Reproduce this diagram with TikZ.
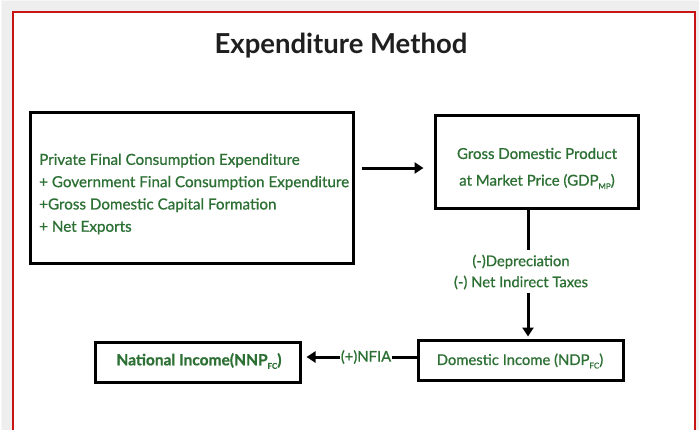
\documentclass[tikz,border=0pt]{standalone}
\usepackage{fontspec}
\setmainfont{Lato}[FakeBold=0.8]
\newfontfamily\titlefont{Lato}
\usetikzlibrary{arrows.meta,calc}
\definecolor{txtgreen}{RGB}{44,112,52}
\definecolor{framered}{RGB}{200,20,20}
% small, dropped subscript as in GDP_MP
\newcommand\lowsub[1]{\raisebox{-3.5pt}{\fontsize{8}{8}\selectfont #1}}
\tikzset{
  box/.style={draw=black, line width=3pt, inner sep=0pt},
  boxtext/.style={text=txtgreen, inner sep=0pt, font=\fontsize{14.8}{22.3}\selectfont},
  lbl/.style={text=txtgreen, inner sep=1pt, font=\fontsize{14.8}{21}\selectfont, align=center},
  conn/.style={line width=3pt, draw=black},
  arr/.style={conn, -{Triangle[length=9pt,width=11pt]}},
}
\begin{document}
\begin{tikzpicture}[x=1pt,y=-1pt]
\useasboundingbox (0,0) rectangle (699,429);
% soft shadow behind the frame
\foreach \i in {1,...,11}{
  \draw[black!60, opacity=0.06, line width=2pt] (13-\i,12-\i) rectangle (695+\i,450);
}
\fill[white] (13,12) rectangle (695,450);
\draw[framered, line width=1.6pt] (13,12) rectangle (695,450);

% title
\node[font=\titlefont\fontsize{27.5}{30}\selectfont\bfseries, text=black!88] (title) at (341,46) {Expenditure Method};

% boxes
\node[box, minimum width=323pt, minimum height=151pt] (exp) at (191.5,187.5) {};
\node[boxtext, anchor=west, align=left, font=\fontsize{15.2}{22.3}\selectfont] (expt) at (39,194)
  {Private Final Consumption Expenditure\\
   + Government Final Consumption Expenditure\\
   +Gross Domestic Capital Formation\\
   + Net Exports};
\node[box, minimum width=203pt, minimum height=93pt] (gdp) at (536.5,161.5) {};
\node[boxtext, align=center, font=\fontsize{15}{26.7}\selectfont] (gdpt) at (537,168.5)
  {Gross Domestic Product\\ at Market Price (GDP\lowsub{MP})};
\node[box, minimum width=205pt, minimum height=40pt] (ndp) at (520.5,360) {};
\node[boxtext] (ndpt) at (520,361) {Domestic Income (NDP\lowsub{FC})};
\node[box, minimum width=205pt, minimum height=40pt] (nnp) at (197.5,362) {};
\node[boxtext, font=\fontsize{15.5}{17}\selectfont\bfseries] (nnpt) at (199,361)
  {National Income(NNP\lowsub{FC})};

% labels on the connectors
\node[lbl] (dep) at (521,272) {(-)Depreciation\\(-) Net Indirect Taxes};
\node[lbl] (nfia) at (366,357) {(+)NFIA};

% connectors
\coordinate (ay) at (0,168);
\coordinate (vx) at (528,0);
\draw[arr] ([xshift=7pt]exp.east |- ay) -- ([xshift=-10pt]gdp.west |- ay);
\draw[conn] (gdp.south -| vx) -- ([yshift=3pt]dep.north -| vx);
\draw[arr] ([yshift=-2pt]dep.south -| vx) -- ([yshift=2pt]ndp.north -| vx);
\draw[conn] (ndp.west |- nfia) -- (nfia.east);
\draw[arr] (nfia.west) -- ([xshift=5pt]nnp.east |- nfia);
\end{tikzpicture}
\end{document}
